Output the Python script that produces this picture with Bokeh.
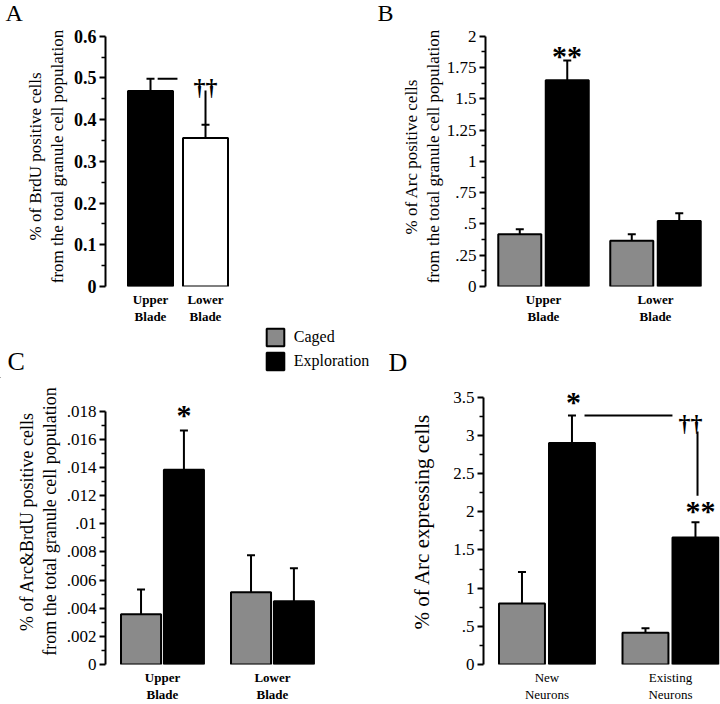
import numpy as np
from bokeh.plotting import figure
from bokeh.layouts import column, row
from bokeh.models import (FixedTicker, Whisker, TeeHead, ColumnDataSource,
                          Legend, LegendItem, Range1d)
from bokeh.core.properties import value
from bokeh.embed import file_html
from bokeh.resources import INLINE

SERIF = "Liberation Serif"
GRAY = "#8a8a8a"

# ---------------- data ----------------
# Panel A
a_categories = ["Upper\nBlade", "Lower\nBlade"]
a_means = [0.469, 0.356]
a_sem = [0.029, 0.032]
a_ticks = [0, 0.1, 0.2, 0.3, 0.4, 0.5, 0.6]
a_tick_labels = ["0", "0.1", "0.2", "0.3", "0.4", "0.5", "0.6"]
a_ylabel = "% of BrdU positive cells\nfrom the total granule cell population"

# Panel B
b_categories = ["Upper\nBlade", "Lower\nBlade"]
b_caged = [0.417, 0.365]
b_caged_sem = [0.041, 0.052]
b_expl = [1.648, 0.523]
b_expl_sem = [0.159, 0.063]
b_ticks = [0, 0.25, 0.5, 0.75, 1, 1.25, 1.5, 1.75, 2]
b_tick_labels = ["0", ".25", ".5", ".75", "1", "1.25", "1.5", "1.75", "2"]
b_ylabel = "% of Arc positive cells\nfrom the total granule cell population"

# Panel C
c_categories = ["Upper\nBlade", "Lower\nBlade"]
c_caged = [0.00357, 0.00513]
c_caged_sem = [0.00175, 0.00263]
c_expl = [0.01383, 0.0045]
c_expl_sem = [0.00279, 0.00233]
c_ticks = [0, 0.002, 0.004, 0.006, 0.008, 0.01, 0.012, 0.014, 0.016, 0.018]
c_tick_labels = ["0", ".002", ".004", ".006", ".008", ".01", ".012", ".014", ".016", ".018"]
c_ylabel = "% of Arc&BrdU positive cells\nfrom the total granule cell population"

# Panel D
d_categories = ["New\nNeurons", "Existing\nNeurons"]
d_caged = [0.80, 0.415]
d_caged_sem = [0.41, 0.06]
d_expl = [2.90, 1.664]
d_expl_sem = [0.36, 0.20]
d_ticks = [0, 0.5, 1, 1.5, 2, 2.5, 3, 3.5]
d_tick_labels = ["0", ".5", "1", "1.5", "2", "2.5", "3", "3.5"]
d_ylabel = "% of Arc expressing cells"

legend_labels = ["Caged", "Exploration"]
panel_letters = ["A", "B", "C", "D"]

# significance marks (data coordinates, text baselines)
a_sig_text = ["††"]
a_sig_x = [1.0]
a_sig_y = [0.467]
a_line = dict(x0=[0.13, 1.0], y0=[0.498, 0.388], x1=[0.49, 1.0], y1=[0.498, 0.47])

b_sig_text = ["**"]
b_sig_x = [0.21]
b_sig_y = [1.769]

c_sig_text = ["*"]
c_sig_x = [0.195]
c_sig_y = [0.01705]

d_star_text = ["*", "**"]
d_star_x = [0.215, 1.243]
d_star_y = [3.313, 1.886]
d_dag_text = ["††"]
d_dag_x = [1.162]
d_dag_y = [3.094]
d_line = dict(x0=[0.304, 1.219], y0=[3.26, 3.05], x1=[1.016, 1.219], y1=[3.26, 2.21])


# ---------------- helpers ----------------
def make_fig(width, height, xr, yr, left, right, top, bottom):
    p = figure(width=width, height=height, x_range=Range1d(*xr), y_range=Range1d(*yr),
               output_backend="svg", toolbar_location=None,
               min_border_left=left, min_border_right=right,
               min_border_top=top, min_border_bottom=bottom)
    p.outline_line_color = None
    p.grid.visible = False
    p.background_fill_color = "white"
    p.border_fill_color = "white"
    return p


def make_strip(width, height, y_top):
    p = figure(width=width, height=height, x_range=Range1d(0, width),
               y_range=Range1d(y_top + height, y_top),
               x_axis_type=None, y_axis_type=None, output_backend="svg",
               toolbar_location=None, min_border=0)
    p.min_border_left = p.min_border_right = p.min_border_top = p.min_border_bottom = 0
    p.outline_line_color = None
    p.background_fill_color = "white"
    p.border_fill_color = "white"
    return p


def style_y(p, ticks, labels, label_text, standoff, font_style, font_size, label_size):
    ax = p.yaxis[0]
    minor = [(a + b) / 2 for a, b in zip(ticks[:-1], ticks[1:])]
    ax.ticker = FixedTicker(ticks=ticks, minor_ticks=minor)
    ax.major_label_overrides = {t: l for t, l in zip(ticks, labels)}
    ax.bounds = (ticks[0], ticks[-1])
    ax.axis_line_width = 2
    ax.major_tick_line_width = 2
    ax.minor_tick_line_width = 1.5
    ax.major_tick_out = 6
    ax.major_tick_in = 0
    ax.minor_tick_out = 4
    ax.minor_tick_in = 0
    ax.major_label_standoff = 3
    ax.major_label_text_font = SERIF
    ax.major_label_text_font_size = f"{font_size}px"
    ax.major_label_text_font_style = font_style
    ax.major_label_text_color = "black"
    ax.axis_label = label_text
    ax.axis_label_text_font = SERIF
    ax.axis_label_text_font_size = f"{label_size}px"
    ax.axis_label_text_font_style = "normal"
    ax.axis_label_text_color = "black"
    ax.axis_label_standoff = standoff
    ax.axis_label_text_line_height = 1.15


def style_x(p, cats, font_style):
    ax = p.xaxis[0]
    ax.ticker = FixedTicker(ticks=[0, 1], minor_ticks=[])
    ax.major_label_overrides = {i: c for i, c in enumerate(cats)}
    ax.axis_line_color = None
    ax.major_tick_line_color = None
    ax.minor_tick_line_color = None
    ax.major_tick_out = 0
    ax.major_label_standoff = 5
    ax.major_label_text_font = SERIF
    ax.major_label_text_font_size = "13px"
    ax.major_label_text_font_style = font_style
    ax.major_label_text_color = "black"
    ax.major_label_text_line_height = 1.15


def whiskers(p, xs, vals, errs):
    src = ColumnDataSource(dict(x=list(xs), lower=list(vals),
                                upper=[v + e for v, e in zip(vals, errs)]))
    w = Whisker(source=src, base="x", lower="lower", upper="upper", dimension="height",
                line_width=2, line_color="black",
                upper_head=TeeHead(size=8, line_width=2, line_color="black"),
                lower_head=None)
    p.add_layout(w)


def marks(p, xs, ys, texts, size, yoff):
    p.text(x=xs, y=ys, text=texts, text_font=value(SERIF), text_font_size=value(f"{size}px"),
           text_font_style="bold", text_align="center", text_baseline="alphabetic",
           text_color="black", y_offset=yoff)


def letters(p, xs, ys, texts, size):
    p.text(x=xs, y=ys, text=texts, text_font=value(SERIF), text_font_size=value(f"{size}px"),
           text_font_style="normal", text_align="left", text_baseline="alphabetic",
           text_color="black", y_offset=-round(0.35 * size))


def grouped(p, caged, caged_sem, expl, expl_sem, off, width):
    idx = np.arange(len(caged))
    xc = idx - off
    xe = idx + off
    rc = p.vbar(x=xc, top=caged, bottom=0, width=width, fill_color=GRAY,
                line_color="black", line_width=2)
    re_ = p.vbar(x=xe, top=expl, bottom=0, width=width, fill_color="black",
                 line_color="black", line_width=2)
    whiskers(p, xc, caged, caged_sem)
    whiskers(p, xe, expl, expl_sem)
    return rc, re_


# ---------------- top strip (panel letters A, B) ----------------
top_strip = make_strip(720, 26, 0)
letters(top_strip, [5, 377], [20.5, 20.5], panel_letters[:2], 24)

# ---------------- Panel A ----------------
pA = make_fig(360, 300, (-0.818, 1.636), (0, 0.6235), 105, 120, 0, 35)
idxA = np.arange(len(a_means))
pA.vbar(x=idxA, top=a_means, bottom=0, width=0.818,
        fill_color=["black", "white"], line_color="black", line_width=2)
whiskers(pA, idxA, a_means, a_sem)
pA.segment(x0=a_line["x0"], y0=a_line["y0"], x1=a_line["x1"], y1=a_line["y1"],
           line_width=2, line_color="black")
marks(pA, a_sig_x, a_sig_y, a_sig_text, 24, -5)
style_y(pA, a_ticks, a_tick_labels, a_ylabel, 4, "bold", 18, 17)
style_x(pA, a_categories, "bold")

# ---------------- Panel B ----------------
pB = make_fig(360, 300, (-0.518, 1.491), (0, 2.0784), 125, 10, 0, 35)
grouped(pB, b_caged, b_caged_sem, b_expl, b_expl_sem, 0.212, 0.384)
marks(pB, b_sig_x, b_sig_y, b_sig_text, 30, -10)
style_y(pB, b_ticks, b_tick_labels, b_ylabel, 1, "normal", 17, 17)
style_x(pB, b_categories, "bold")

# ---------------- middle strip (legend, letters C, D) ----------------
mid_strip = make_strip(720, 52, 326)
# legend keys: drawn outside the visible strip, only their swatches appear in the legend
key_c = mid_strip.vbar(x=[-100], top=[400], bottom=[380], width=10, fill_color=GRAY,
                       line_color="black", line_width=2)
key_e = mid_strip.vbar(x=[-100], top=[400], bottom=[380], width=10, fill_color="black",
                       line_color="black", line_width=2)
leg = Legend(items=[LegendItem(label=legend_labels[0], renderers=[key_c]),
                    LegendItem(label=legend_labels[1], renderers=[key_e])],
             location=(263.8, 6.2), glyph_width=22, glyph_height=22, label_height=22,
             spacing=2, padding=0, margin=0, label_standoff=8,
             border_line_color=None, background_fill_alpha=0,
             label_text_font=SERIF, label_text_font_size="16px", label_text_color="black")
mid_strip.add_layout(leg)
letters(mid_strip, [7, 388], [370, 371], panel_letters[2:], 26)

# ---------------- Panel C ----------------
pC = make_fig(380, 326, (-0.518, 1.964), (0, 0.020311), 105, 2, 0, 36)
grouped(pC, c_caged, c_caged_sem, c_expl, c_expl_sem, 0.195, 0.364)
marks(pC, c_sig_x, c_sig_y, c_sig_text, 30, -10)
style_y(pC, c_ticks, c_tick_labels, c_ylabel, 4, "normal", 17, 18)
style_x(pC, c_categories, "bold")

# ---------------- Panel D ----------------
pD = make_fig(340, 326, (-0.514, 1.397), (0, 3.745), 103, 1, 0, 36)
grouped(pD, d_caged, d_caged_sem, d_expl, d_expl_sem, 0.2024, 0.372)
pD.segment(x0=d_line["x0"], y0=d_line["y0"], x1=d_line["x1"], y1=d_line["y1"],
           line_width=2, line_color="black")
marks(pD, d_star_x, d_star_y, d_star_text, 30, -10)
marks(pD, d_dag_x, d_dag_y, d_dag_text, 24, -5)
style_y(pD, d_ticks, d_tick_labels, d_ylabel, 16, "normal", 17, 21)
style_x(pD, d_categories, "normal")

layout = column(top_strip, row(pA, pB), mid_strip, row(pC, pD))
open("out.html", "w").write(file_html(layout, INLINE))
